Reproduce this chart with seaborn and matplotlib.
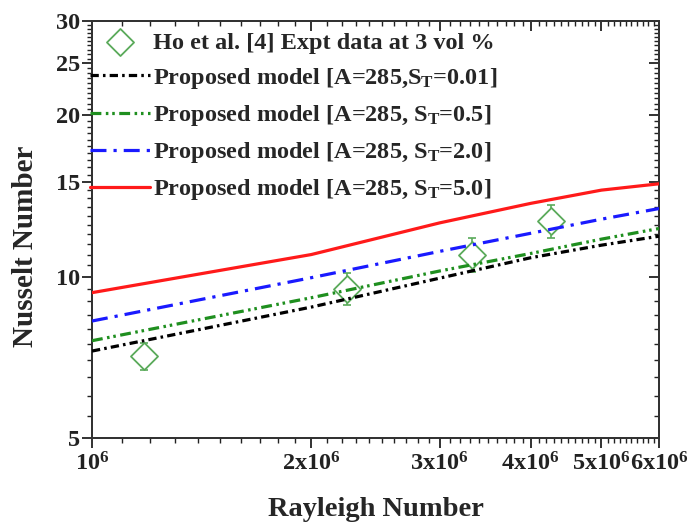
import matplotlib
matplotlib.use("Agg")
import matplotlib.pyplot as plt
import pandas as pd
import seaborn as sns
from matplotlib.ticker import FixedLocator, NullFormatter

# Model curves: Nusselt number vs Rayleigh number for several S_T values
ra_model = [1e6, 2e6, 3e6, 4e6, 5e6, 6e6]
nu_st001 = [7.27, 8.78, 9.94, 10.85, 11.45, 11.9]
nu_st05 = [7.60, 9.14, 10.25, 11.05, 11.75, 12.3]
nu_st20 = [8.27, 9.96, 11.15, 12.05, 12.8, 13.4]
nu_st50 = [9.34, 11.0, 12.6, 13.7, 14.5, 14.9]

# Experimental data (Ho et al.) with error bars
ra_expt = [1.18e6, 2.24e6, 3.32e6, 4.26e6]
nu_expt = [7.12, 9.5, 11.0, 12.7]
nu_err = [0.42, 0.65, 0.8, 0.9]

labels_model = [
    "Proposed model [A=285,S$_{\\mathrm{T}}$=0.01]",
    "Proposed model [A=285, S$_{\\mathrm{T}}$=0.5]",
    "Proposed model [A=285, S$_{\\mathrm{T}}$=2.0]",
    "Proposed model [A=285, S$_{\\mathrm{T}}$=5.0]",
]
label_expt = "Ho et al. [4] Expt data at 3 vol %"

x_ticks = [1e6, 2e6, 3e6, 4e6, 5e6, 6e6]
x_ticklabels = ["10$^{6}$", "2x10$^{6}$", "3x10$^{6}$", "4x10$^{6}$", "5x10$^{6}$", "6x10$^{6}$"]
y_ticks = [5, 10, 15, 20, 25, 30]

sns.set_style("ticks")
plt.rcParams["font.family"] = ["Liberation Serif", "DejaVu Serif"]
plt.rcParams["font.weight"] = "bold"
plt.rcParams["mathtext.fontset"] = "custom"
plt.rcParams["mathtext.rm"] = "Liberation Serif:bold"
plt.rcParams["mathtext.it"] = "Liberation Serif:bold"
plt.rcParams["mathtext.bf"] = "Liberation Serif:bold"
plt.rcParams["mathtext.default"] = "rm"

fig = plt.figure(figsize=(6.89, 5.26), dpi=100)
ax = fig.add_axes([0.1335, 0.1667, 0.823, 0.794])

curves = pd.DataFrame({
    "Ra": ra_model * 4,
    "Nu": nu_st001 + nu_st05 + nu_st20 + nu_st50,
    "model": sum([[lab] * len(ra_model) for lab in labels_model], []),
})

lw = 2.3
styles = {
    labels_model[0]: dict(color="black", linestyle=(0, (2.6, 1.3, 0.8, 1.3))),
    labels_model[1]: dict(color="#1f8f1f", linestyle=(0, (3.4, 1.4, 0.8, 1.2, 0.8, 1.4))),
    labels_model[2]: dict(color="#1a1aff", linestyle=(0, (5.0, 2.2, 1.0, 2.2))),
    labels_model[3]: dict(color="#ff1a1a", linestyle="-"),
}

green_marker = "#5aaa5a"

# Experimental points with error bars
ax.errorbar(ra_expt, nu_expt, yerr=nu_err, fmt="none", ecolor=green_marker,
            elinewidth=1.2, capsize=3, capthick=1.2, zorder=3)
sns.scatterplot(x=ra_expt, y=nu_expt, ax=ax, marker="D", s=190,
                facecolor="white", edgecolor=green_marker, linewidth=1.3,
                label=label_expt, zorder=4)

for lab in labels_model:
    sub = curves[curves["model"] == lab]
    sns.lineplot(data=sub, x="Ra", y="Nu", ax=ax, label=lab, lw=lw,
                 color=styles[lab]["color"], linestyle=styles[lab]["linestyle"],
                 zorder=5)

ax.set_xscale("log")
ax.set_yscale("log")
ax.set_xlim(1e6, 6e6)
ax.set_ylim(5, 30)

x_minor = [m * 1e5 for m in range(11, 60) if m % 10 != 0]
y_minor = [v / 2 for v in range(11, 60) if v % 10 != 0]

ax.xaxis.set_major_locator(FixedLocator(x_ticks))
ax.xaxis.set_minor_locator(FixedLocator(x_minor))
ax.yaxis.set_major_locator(FixedLocator(y_ticks))
ax.yaxis.set_minor_locator(FixedLocator(y_minor))
ax.xaxis.set_minor_formatter(NullFormatter())
ax.yaxis.set_minor_formatter(NullFormatter())
ax.set_xticklabels(x_ticklabels)
ax.set_yticklabels([str(v) for v in y_ticks])
ax.tick_params(which="major", direction="out", length=7, width=1.3,
               labelsize=17.5, colors="#222222")
ax.tick_params(axis="y", which="major", pad=1.5)
ax.tick_params(axis="x", which="major", pad=3)
ax.tick_params(which="minor", direction="out", length=3.5, width=1.0, colors="#222222")

# Inward ticks mirrored on the top and right
axt = ax.twiny()
axt.set_xscale("log")
axt.set_xlim(1e6, 6e6)
axt.xaxis.set_major_locator(FixedLocator(x_ticks))
axt.xaxis.set_minor_locator(FixedLocator(x_minor))
axt.xaxis.set_major_formatter(NullFormatter())
axt.xaxis.set_minor_formatter(NullFormatter())
axt.tick_params(which="major", direction="in", length=7, width=1.3, colors="#222222")
axt.tick_params(which="minor", direction="in", length=3.5, width=1.0, colors="#222222")

axr = ax.twinx()
axr.set_yscale("log")
axr.set_ylim(5, 30)
axr.yaxis.set_major_locator(FixedLocator(y_ticks))
axr.yaxis.set_minor_locator(FixedLocator(y_minor))
axr.yaxis.set_major_formatter(NullFormatter())
axr.yaxis.set_minor_formatter(NullFormatter())
axr.tick_params(which="major", direction="in", length=7, width=1.3, colors="#222222")
axr.tick_params(which="minor", direction="in", length=3.5, width=1.0, colors="#222222")

for a in (ax, axt, axr):
    for sp in a.spines.values():
        sp.set_linewidth(1.3)
        sp.set_color("#333333")

ax.set_xlabel("Rayleigh Number", fontsize=20.5, fontweight="bold")
ax.xaxis.set_label_coords(0.5, -0.186, transform=ax.transAxes)
ax.xaxis.label.set_va("baseline")
ax.set_ylabel("Nusselt Number", fontsize=21, fontweight="bold")
ax.yaxis.set_label_coords(-0.118, 0.46)
ax.yaxis.label.set_va("center")

leg = ax.legend(loc="upper left", bbox_to_anchor=(-0.012, 0.985), borderaxespad=0.0,
                borderpad=0.2, frameon=False, fontsize=17.5, handlelength=2.45,
                handletextpad=0.15, labelspacing=0.5)
ax.set_zorder(axt.get_zorder() + 2)
ax.patch.set_visible(False)

fig.savefig("out.png", dpi=100)
